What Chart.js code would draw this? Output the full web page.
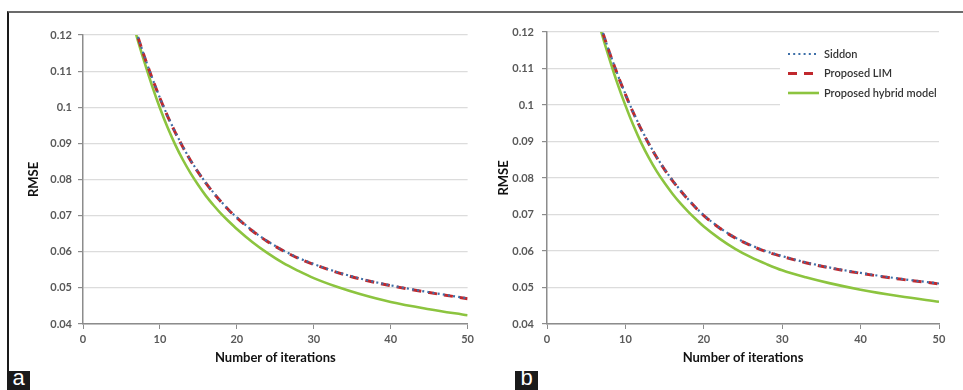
<!DOCTYPE html>
<html>
<head>
<meta charset="utf-8">
<script src="https://cdn.jsdelivr.net/npm/chart.js@4.4.1/dist/chart.umd.min.js"></script>
<style>
  html,body{margin:0;padding:0;background:#fff;}
  body{width:963px;height:390px;position:relative;overflow:hidden;font-family:Lato,"Open Sans",sans-serif;}
  .frame{position:absolute;left:7px;top:11px;width:960px;height:360px;border-top:2px solid #6b6b6b;border-left:2px solid #1a1a1a;box-sizing:border-box;}
  .panel{position:absolute;top:0;height:370px;}
  #pa{left:7px;width:471px;}
  #pb{left:478px;width:485px;}
  .tag{position:absolute;top:371px;width:23px;height:19px;background:#1a1a1a;color:#fff;
       font:22px "Liberation Sans",Arial,sans-serif;line-height:14px;text-align:center;overflow:hidden;}
</style>
</head>
<body>
<div class="frame"></div>
<div class="panel" id="pa"><canvas id="chartA"></canvas></div>
<div class="panel" id="pb"><canvas id="chartB"></canvas></div>
<div class="tag" style="left:7px">a</div>
<div class="tag" style="left:515px">b</div>
<script>
const iters = [6, 7, 8, 9, 10, 11, 12, 13, 14, 15, 16, 17, 18, 19, 20, 22, 24, 26, 28, 30, 33, 36, 40, 45, 50];

// panel a
const siddonA = [0.1278, 0.1205, 0.1140, 0.1081, 0.1026, 0.0976, 0.0931, 0.0890, 0.0853, 0.0820, 0.0790, 0.0763, 0.0738, 0.0715, 0.0695,
                 0.0659, 0.0629, 0.0604, 0.0583, 0.0566, 0.0544, 0.0526, 0.0507, 0.0488, 0.0471];
const limA    = [0.1277, 0.1204, 0.1139, 0.1080, 0.1025, 0.0975, 0.0930, 0.0889, 0.0852, 0.0819, 0.0789, 0.0762, 0.0737, 0.0714, 0.0694,
                 0.0658, 0.0628, 0.0603, 0.0582, 0.0565, 0.0543, 0.0525, 0.0506, 0.0487, 0.0470];
const hybridA = [0.1275, 0.1195, 0.1124, 0.1058, 0.0998, 0.0944, 0.0896, 0.0854, 0.0817, 0.0784, 0.0754, 0.0728, 0.0704, 0.0683, 0.0663,
                 0.0627, 0.0596, 0.0569, 0.0547, 0.0527, 0.0503, 0.0483, 0.0461, 0.0441, 0.0424];

// panel b
const siddonB = [0.1280, 0.1207, 0.1143, 0.1084, 0.1030, 0.0980, 0.0935, 0.0894, 0.0857, 0.0824, 0.0794, 0.0767, 0.0742, 0.0719, 0.0698,
                 0.0664, 0.0637, 0.0616, 0.0599, 0.0586, 0.0569, 0.0555, 0.0540, 0.0524, 0.0511];
const limB    = [0.1279, 0.1206, 0.1142, 0.1083, 0.1029, 0.0979, 0.0934, 0.0893, 0.0856, 0.0823, 0.0793, 0.0766, 0.0741, 0.0718, 0.0697,
                 0.0663, 0.0636, 0.0615, 0.0598, 0.0585, 0.0568, 0.0554, 0.0539, 0.0523, 0.0510];
const hybridB = [0.1275, 0.1195, 0.1124, 0.1058, 0.0999, 0.0945, 0.0897, 0.0855, 0.0818, 0.0786, 0.0757, 0.0731, 0.0708, 0.0687, 0.0667,
                 0.0634, 0.0606, 0.0583, 0.0564, 0.0547, 0.0528, 0.0512, 0.0494, 0.0476, 0.0461];

const seriesNames = ['Siddon', 'Proposed LIM', 'Proposed hybrid model'];
const xTicks = [0, 10, 20, 30, 40, 50];
const yTicks = [0.04, 0.05, 0.06, 0.07, 0.08, 0.09, 0.1, 0.11, 0.12];

const axisGray = '#8c8c8c', gridGray = '#dcdcdc', tickText = '#595959';
const blue = '#3d6fa8', red = '#c0282d', green = '#8cc43f';
const fam = 'Lato, "Open Sans", sans-serif';

const pts = vals => iters.map((x, i) => ({x, y: vals[i]}));

function datasets(sid, lim, hyb){
  return [
    {label:seriesNames[0], data:pts(sid), borderColor:blue, borderWidth:2.2, borderDash:[2,3.2], borderCapStyle:'butt'},
    {label:seriesNames[1], data:pts(lim), borderColor:red, borderWidth:3, borderDash:[9,7], borderCapStyle:'butt'},
    {label:seriesNames[2], data:pts(hyb), borderColor:green, borderWidth:2.6}
  ].map(d => Object.assign(d, {pointRadius:0, fill:false, cubicInterpolationMode:'monotone'}));
}

// legend drawn inside the plot of panel b, on a white box
const innerLegend = {
  id:'innerLegend',
  afterDatasetsDraw(chart, args, opts){
    if(!opts.show) return;
    const c = chart.ctx, a = chart.chartArea;
    c.save();
    c.fillStyle = '#fff';
    c.fillRect(a.left + opts.boxX, a.top + opts.boxY, a.right - a.left - opts.boxX + 2, opts.boxH);
    c.font = '600 11px ' + fam;
    c.textBaseline = 'middle';
    chart.data.datasets.forEach((d, i) => {
      const y = a.top + opts.y0 + i * opts.dy;
      const x = a.left + opts.x0;
      c.strokeStyle = d.borderColor;
      c.lineWidth = d.borderWidth;
      c.setLineDash(d.borderDash || []);
      c.beginPath(); c.moveTo(x, y); c.lineTo(x + opts.len, y); c.stroke();
      c.setLineDash([]);
      c.fillStyle = '#333';
      c.fillText(d.label, x + opts.len + 5, y);
    });
    c.restore();
  }
};

function build(id, sets, lay){
  return new Chart(document.getElementById(id), {
    type:'line',
    data:{datasets:sets},
    plugins:[innerLegend],
    options:{
      responsive:true, maintainAspectRatio:false, animation:false,
      layout:{padding:{top:lay.top, right:lay.right, left:0, bottom:0}},
      plugins:{legend:{display:false}, tooltip:{enabled:false}, innerLegend:lay.legend},
      scales:{
        x:{type:'linear', min:0, max:50,
          afterBuildTicks: s => { s.ticks = xTicks.map(v => ({value:v})); },
          afterFit: s => { s.height = 46; },
          ticks:{color:tickText, font:{family:fam, size:11, weight:'bold'}, padding:4, maxRotation:0},
          grid:{drawOnChartArea:false, drawTicks:true, tickLength:5, tickColor:axisGray},
          border:{color:axisGray, width:1.5},
          title:{display:true, text:'Number of iterations', color:'#111',
                 font:{family:fam, size:13, weight:'bold'}, padding:{top:0, bottom:4}}
        },
        y:{min:0.04, max:0.12,
          afterBuildTicks: s => { s.ticks = yTicks.map(v => ({value:v})); },
          afterFit: s => { s.width = lay.yWidth; },
          ticks:{color:tickText, font:{family:fam, size:11, weight:'bold'}, padding:lay.tickPad,
                 callback: v => String(+v.toFixed(2))},
          grid:{color:gridGray, lineWidth:1.2, tickLength:5, tickColor:axisGray},
          border:{color:axisGray, width:1.5},
          title:{display:true, text:'RMSE', color:'#111',
                 font:{family:fam, size:13, weight:'bold'}, padding:{top:lay.titlePad, bottom:0}}
        }
      }
    }
  });
}

build('chartA', datasets(siddonA, limA, hybridA),
  {top:35, right:3, yWidth:76, tickPad:6, titlePad:19, legend:{show:false}});
build('chartB', datasets(siddonB, limB, hybridB),
  {top:32, right:24, yWidth:69, tickPad:8, titlePad:18,
   legend:{show:true, boxX:233, boxY:8, boxH:80, x0:241, y0:22, dy:19.5, len:31}});
</script>
</body>
</html>
